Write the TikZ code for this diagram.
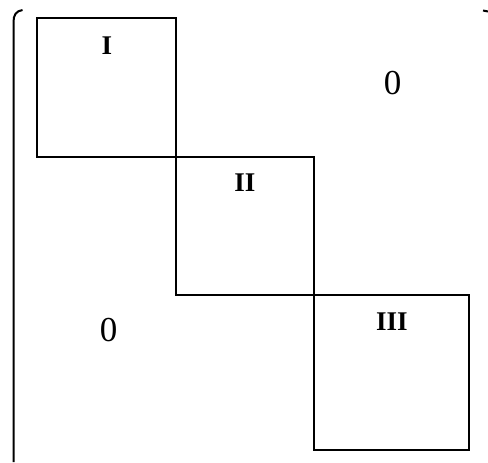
\documentclass[tikz,border=0pt]{standalone}
\usepackage{fontspec}
\setmainfont{Liberation Serif}
\begin{document}
\begin{tikzpicture}[x=1pt,y=-1pt,
  blk/.style={draw=black, line width=2pt, inner sep=0pt, outer sep=0pt},
  lab/.style={inner sep=0pt, font=\fontsize{27}{27}\selectfont\bfseries},
  zero/.style={inner sep=0pt, font=\fontsize{35}{35}\selectfont},
  brk/.style={line width=2pt}]
\useasboundingbox (0,0) rectangle (488,463);
\node[blk, minimum width=139pt, minimum height=139pt] (b1) at (106.5,87.5) {};
\node[blk, minimum width=138pt, minimum height=138pt] (b2) at (245,226) {};
\node[blk, minimum width=155pt, minimum height=155pt] (b3) at (391.5,372.5) {};
\node[lab] (l1) at (107,46) {I};
\node[lab] (l2) at (245,183) {II};
\node[lab] (l3) at (392,322) {III};
\node[zero] (z1) at (392.5,83.5) {0};
\node[zero] (z2) at (108.5,330) {0};
\coordinate (lbt) at (22.5,10);
\coordinate (lbb) at (13.5,462);
\draw[brk] (lbt) .. controls (16,11) and (13.5,15) .. (13.5,22) -- (lbb);
\coordinate (rb1) at (483,10.5);
\coordinate (rb2) at (488,11.5);
\draw[brk] (rb1) -- (rb2);
\end{tikzpicture}
\end{document}
